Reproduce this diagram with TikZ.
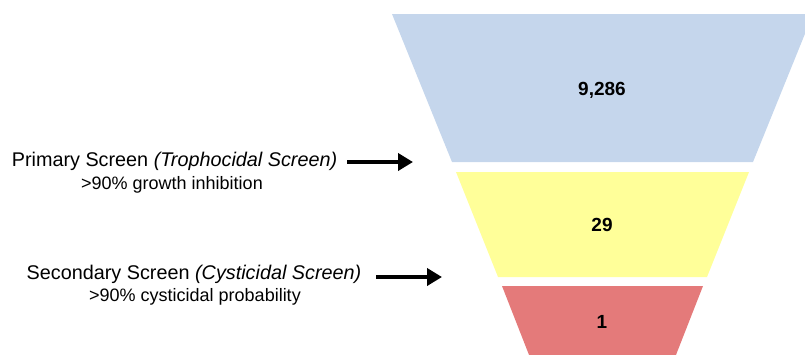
\documentclass[tikz,border=0pt]{standalone}
\usepackage{fontspec}
\setmainfont{Liberation Sans}
\usetikzlibrary{arrows.meta,positioning}
\definecolor{funblue}{HTML}{C5D6EC}
\definecolor{funyellow}{HTML}{FFFF99}
\definecolor{funred}{HTML}{E47A7A}

\begin{document}
\begin{tikzpicture}[x=1pt, y=-1pt,
    screen/.style={inner sep=0pt, font=\fontsize{19.8}{22}\selectfont},
    crit/.style={inner sep=0pt, font=\fontsize{18}{21}\selectfont},
    count/.style={font=\bfseries\fontsize{19}{22}\selectfont},
    arr/.style={-{Triangle[length=15pt,width=17pt]}, line width=4.5pt, shorten <=10pt}]
    \useasboundingbox (0,0) rectangle (805,354);
    \clip (0,0) rectangle (805,354);
    % funnel
    \fill[funblue] (392,14) -- (813,14) -- (753,162) -- (452,162) -- cycle;
    \fill[funyellow] (456,172) -- (749,172) -- (707,277) -- (498,277) -- cycle;
    \fill[funred] (502,286) -- (703,286) -- (674,360) -- (531,360) -- cycle;
    \node[count] (n1) at (602,90) {9,286};
    \node[count] (n2) at (602,225) {29};
    \node[count] (n3) at (602,322) {1};
    % screens
    \node[screen] (prim) at (174.5,161) {Primary Screen \textit{(Trophocidal Screen)}};
    \node[crit] (primsub) at (172,185) {>90\% growth inhibition};
    \node[screen] (sec) at (194,274) {Secondary Screen \textit{(Cysticidal Screen)}};
    \node[crit] (secsub) at (195,297) {>90\% cysticidal probability};
    \coordinate (t1) at (413,162);
    \coordinate (t2) at (442,277);
    \draw[arr] (prim.east |- t1) -- (t1);
    \draw[arr, shorten <=15pt] (sec.east |- t2) -- (t2);
\end{tikzpicture}
\end{document}
